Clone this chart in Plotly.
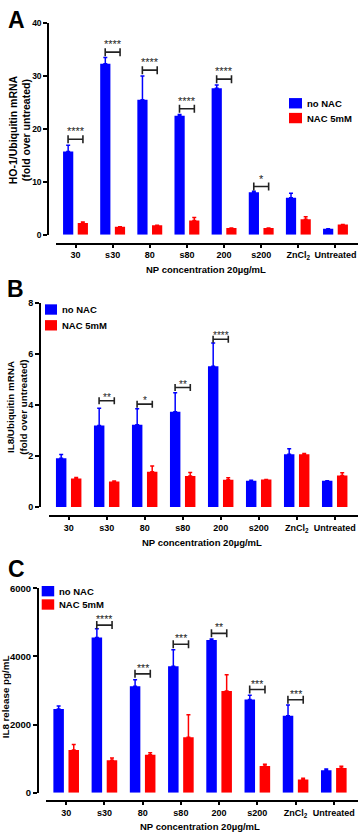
import plotly.graph_objects as go

# ---------------- data ----------------
categories = ["30", "s30", "80", "s80", "200", "s200", "ZnCl<sub>2</sub>", "Untreated"]

# Panel A : HO-1/Ubiquitin mRNA (fold over untreated)
a_no_nac = [15.7, 32.3, 25.5, 22.5, 27.7, 8.0, 7.0, 1.1]
a_no_nac_err = [1.2, 1.2, 4.5, 0.2, 0.6, 0.2, 0.85, 0.0]
a_nac = [2.2, 1.5, 1.8, 2.7, 1.25, 1.25, 2.9, 1.9]
a_nac_err = [0.2, 0.0, 0.0, 0.55, 0.0, 0.0, 0.5, 0.0]
a_sig_idx = [0, 1, 2, 3, 4, 5]
a_sig_y = [18.05, 34.5, 31.1, 23.8, 29.4, 9.1]
a_sig_txt = ["****", "****", "****", "****", "****", "*"]
a_ticks = [0, 10, 20, 30, 40]

# Panel B : IL8/Ubiquitin mRNA (fold over untreated)
b_no_nac = [1.91, 3.19, 3.22, 3.73, 5.51, 1.03, 2.07, 1.03]
b_no_nac_err = [0.15, 0.68, 0.63, 0.75, 0.91, 0.02, 0.21, 0.0]
b_nac = [1.12, 1.00, 1.38, 1.22, 1.07, 1.08, 2.07, 1.24]
b_nac_err = [0.04, 0.02, 0.23, 0.13, 0.08, 0.0, 0.03, 0.10]
b_sig_idx = [1, 2, 3, 4]
b_sig_y = [4.16, 4.03, 4.68, 6.57]
b_sig_txt = ["**", "*", "**", "****"]
b_ticks = [0, 2, 4, 6, 8]

# Panel C : IL8 release pg/mL
c_no_nac = [2460, 4553, 3126, 3713, 4486, 2738, 2258, 666]
c_no_nac_err = [87, 260, 191, 484, 29, 127, 318, 34]
c_nac = [1253, 955, 1117, 1630, 2990, 790, 394, 732]
c_nac_err = [165, 67, 58, 657, 472, 49, 31, 48]
c_sig_idx = [1, 2, 3, 4, 5, 6]
c_sig_y = [4920, 3490, 4359, 4677, 3030, 2730]
c_sig_txt = ["****", "***", "***", "**", "***", "***"]
c_ticks = [0, 2000, 4000, 6000]

series_names = ["no NAC", "NAC 5mM"]
x_title = "NP concentration 20µg/mL"

# ---------------- layout helpers ----------------
W, H = 358, 839
FONT = "Liberation Sans, Arial, sans-serif"
BLUE = "#0000FF"
RED = "#FF0000"
INK = "#222222"


def fx(px):
    return px / W


def fy(py):
    return 1 - py / H


panels = [
    dict(key="", letter="A", letter_pos=(16, 14),
         no=a_no_nac, no_err=a_no_nac_err, nac=a_nac, nac_err=a_nac_err,
         sig_idx=a_sig_idx, sig_y=a_sig_y, sig_txt=a_sig_txt, ticks=a_ticks,
         yrange=[0, 40], ytop=17.3, ybot=231.7, yline_x=48.3, xline_y=240.7,
         xstart=56, xrange=[-0.525, 7.606], ytitle="HO-1/Ubiquitin mRNA<br>(fold over untreated)",
         ytitle_pos=(20, 126), ytitle_fs=10.5, xtitle_y=266.7, tickfs=8.5,
         sig_shift=0, sig_fs=11, cap=4,
         legend=(289, 93.3, 13, 10.5, 15)),
    dict(key="2", letter="B", letter_pos=(15.5, 287),
         no=b_no_nac, no_err=b_no_nac_err, nac=b_nac, nac_err=b_nac_err,
         sig_idx=b_sig_idx, sig_y=b_sig_y, sig_txt=b_sig_txt, ticks=b_ticks,
         yrange=[0, 8], ytop=300.7, ybot=507.7, yline_x=40, xline_y=516.7,
         xstart=49, xrange=[-0.518, 7.613], ytitle="IL8/Ubiquitin mRNA<br>(fold over untreated)",
         ytitle_pos=(17, 407), ytitle_fs=9.8, xtitle_y=544, tickfs=9,
         sig_shift=-4, sig_fs=10, cap=3.5,
         legend=(45, 302.3, 12, 10.5, 16)),
    dict(key="3", letter="C", letter_pos=(16.5, 570),
         no=c_no_nac, no_err=c_no_nac_err, nac=c_nac, nac_err=c_nac_err,
         sig_idx=c_sig_idx, sig_y=c_sig_y, sig_txt=c_sig_txt, ticks=c_ticks,
         yrange=[0, 6000], ytop=590, ybot=797.3, yline_x=38, xline_y=806,
         xstart=46, xrange=[-0.528, 7.633], ytitle="IL8 release pg/mL",
         ytitle_pos=(5.5, 700), ytitle_fs=9.8, xtitle_y=831.7, tickfs=9.5,
         sig_shift=-2, sig_fs=10.5, cap=4,
         legend=(41.7, 587.7, 12.5, 10.5, 13.5)),
]

fig = go.Figure()
shapes = []
annotations = []
layout_axes = {}
xs = list(range(len(categories)))

for p in panels:
    k = p["key"]
    xref = "x" + k
    yref = "y" + k
    for vals, errs, color, name, off in [
        (p["no"], p["no_err"], BLUE, series_names[0], -0.335),
        (p["nac"], p["nac_err"], RED, series_names[1], 0.06),
    ]:
        fig.add_trace(go.Bar(
            x=xs, y=vals, name=name, xaxis=xref, yaxis=yref,
            width=0.275, offset=off, marker=dict(color=color, line=dict(width=0)),
            showlegend=False,
            error_y=dict(type="data", symmetric=False, array=errs,
                         arrayminus=[0] * len(errs), color=color,
                         thickness=1.5, width=2),
        ))

    layout_axes["xaxis" + k] = dict(
        domain=[fx(p["xstart"]), 1], range=p["xrange"], anchor="free",
        position=fy(p["xline_y"]), showline=True, linewidth=2, linecolor="black",
        ticks="outside", ticklen=3, tickwidth=1.5, tickcolor="black",
        tickvals=xs, ticktext=categories, showgrid=False, zeroline=False,
        tickfont=dict(family=FONT, size=9, color="black", weight="bold"),
        fixedrange=True,
    )
    layout_axes["yaxis" + k] = dict(
        domain=[fy(p["ybot"]), fy(p["ytop"])], range=p["yrange"], anchor="free",
        position=fx(p["yline_x"]), showline=True, linewidth=2, linecolor="black",
        ticks="outside", ticklen=4, tickwidth=2, tickcolor="black",
        tickvals=p["ticks"], showgrid=False, zeroline=False,
        tickfont=dict(family=FONT, size=p["tickfs"], color="black", weight="bold"),
        fixedrange=True,
    )

    # significance brackets
    for i, h, t in zip(p["sig_idx"], p["sig_y"], p["sig_txt"]):
        shapes.append(dict(type="line", xref=xref, yref=yref, x0=i - 0.2, x1=i + 0.2,
                           y0=h, y1=h, line=dict(color=INK, width=1.6)))
        for xe in (i - 0.2, i + 0.2):
            shapes.append(dict(type="line", xref=xref, yref=yref, x0=xe, x1=xe,
                               ysizemode="pixel", yanchor=h, y0=-p["cap"], y1=p["cap"],
                               line=dict(color=INK, width=1.6)))
        annotations.append(dict(x=i, y=h, xref=xref, yref=yref, text=t, showarrow=False,
                                yanchor="bottom", yshift=p["sig_shift"],
                                font=dict(family=FONT, size=p["sig_fs"], color=INK)))

    # axis titles
    annotations.append(dict(x=3.5, xref=xref, y=fy(p["xtitle_y"]), yref="paper",
                            text=x_title, showarrow=False, yanchor="middle",
                            font=dict(family=FONT, size=9.5, color="black", weight="bold")))
    tx, ty = p["ytitle_pos"]
    annotations.append(dict(x=fx(tx), y=fy(ty), xref="paper", yref="paper",
                            text=p["ytitle"], showarrow=False, textangle=-90,
                            xanchor="center", yanchor="middle",
                            font=dict(family=FONT, size=p["ytitle_fs"], color="black",
                                      weight="bold")))
    lx, ly = p["letter_pos"]
    annotations.append(dict(x=fx(lx), y=fy(ly), xref="paper", yref="paper",
                            text=p["letter"], showarrow=False,
                            xanchor="center", yanchor="middle",
                            font=dict(family=FONT, size=23, color="black", weight="bold")))

    # legend
    gx, gy, gw, gh, gstep = p["legend"]
    for j, (name, color) in enumerate(zip(series_names, [BLUE, RED])):
        top = gy + j * gstep
        shapes.append(dict(type="rect", xref="paper", yref="paper",
                           x0=fx(gx), x1=fx(gx + gw), y0=fy(top + gh), y1=fy(top),
                           fillcolor=color, line=dict(width=0)))
        annotations.append(dict(x=fx(gx + gw + 3), y=fy(top + gh / 2), xref="paper",
                                yref="paper", text=name, showarrow=False,
                                xanchor="left", yanchor="middle",
                                font=dict(family=FONT, size=9.5, color="black", weight="bold")))

fig.update_layout(
    width=W, height=H, margin=dict(l=0, r=0, t=0, b=0),
    paper_bgcolor="white", plot_bgcolor="white", barmode="overlay",
    showlegend=False, shapes=shapes, annotations=annotations,
    font=dict(family=FONT, color="black"),
    **layout_axes,
)

fig.write_html("out.html", config={"displayModeBar": False},
               post_script="document.body.style.margin='0';document.body.style.overflow='hidden';")
